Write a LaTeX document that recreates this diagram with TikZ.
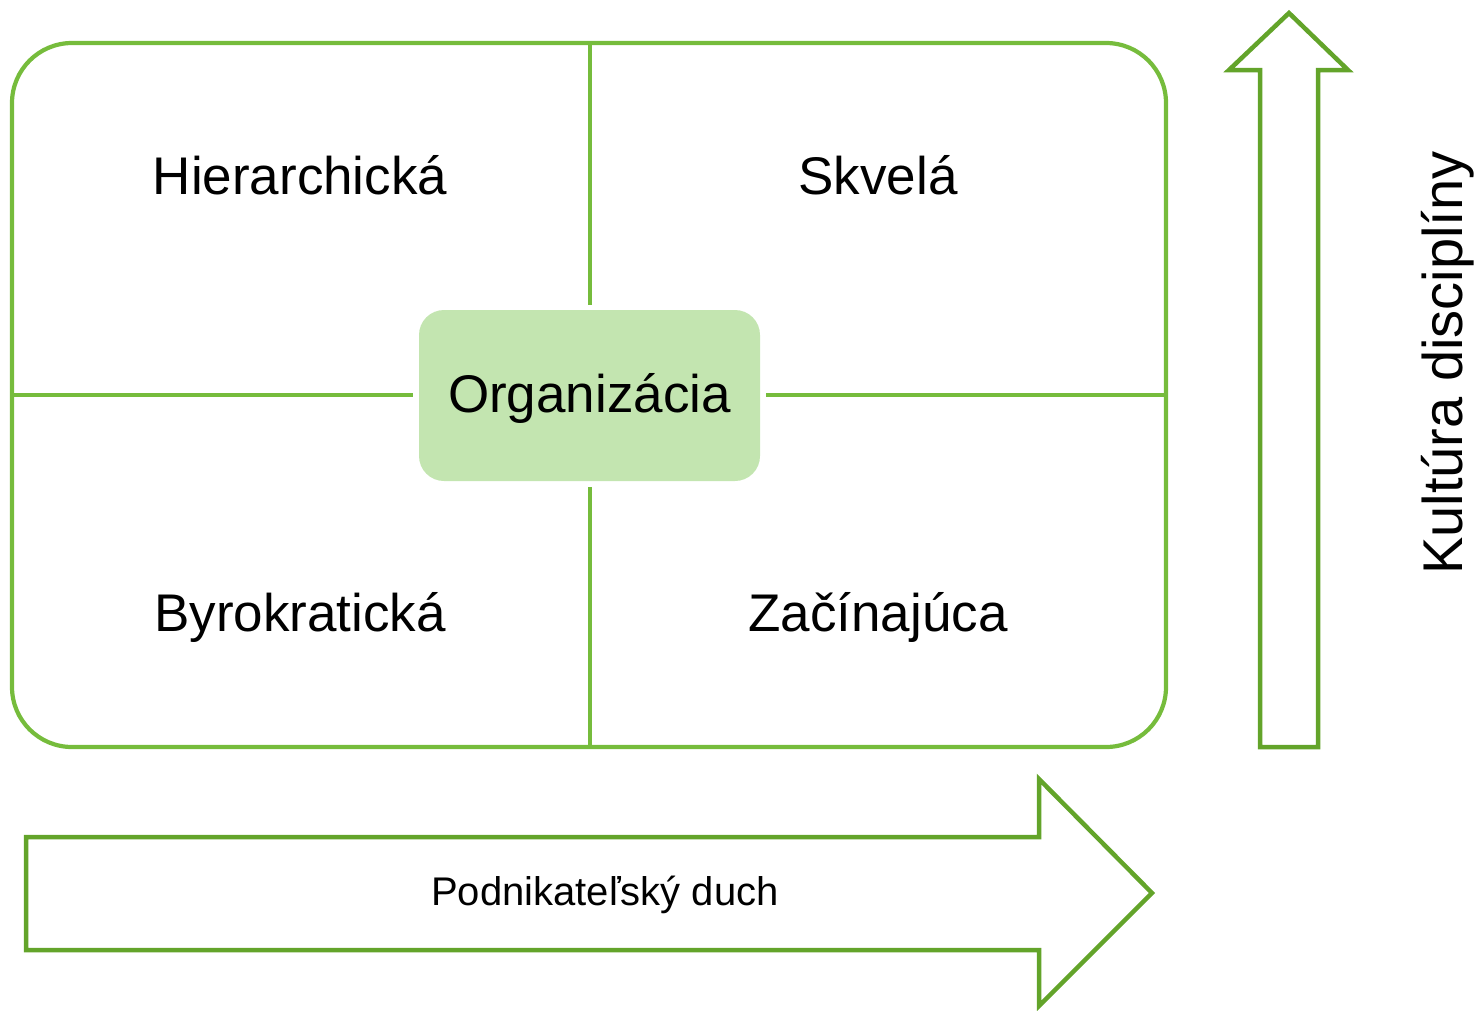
\documentclass[tikz,border=0pt]{standalone}
\usepackage{fontspec}
\setmainfont{Liberation Sans}
\definecolor{boxgreen}{HTML}{76BC3C}
\definecolor{arrgreen}{HTML}{63A42A}
\definecolor{centfill}{HTML}{C3E5B0}
\begin{document}
\begin{tikzpicture}[x=1pt,y=-1pt,
  frame/.style={draw=boxgreen,line width=4.2pt},
  bigarrow/.style={draw=arrgreen,line width=4.5pt,line join=miter,fill=white},
  lbl/.style={font=\fontsize{53}{64}\selectfont,text=black,inner sep=0pt},
  center/.style={fill=centfill,rounded corners=25pt,minimum width=341pt,minimum height=171pt,inner sep=0pt,font=\fontsize{53}{64}\selectfont}]
\useasboundingbox (0,0) rectangle (1476,1010);
% quadrant frame
\draw[frame,rounded corners=60pt] (12,43) rectangle (1166,747);
\node[center] (org) at (589.5,395.5) {};
\node[lbl] (orgtxt) at (589.5,398) {Organizácia};
\coordinate (top) at (590,43);
\coordinate (bot) at (590,747);
\coordinate (lft) at (12,395);
\coordinate (rgt) at (1166,395);
\draw[frame] (top) -- ([yshift=5pt]org.north -| top);
\draw[frame] (bot) -- ([yshift=-6pt]org.south -| bot);
\draw[frame] (lft) -- ([xshift=-6pt]org.west |- lft);
\draw[frame] (rgt) -- ([xshift=6pt]org.east |- rgt);
% quadrant labels
\node[lbl] (h) at (300,175) {Hierarchická};
\node[lbl] (s) at (878,175) {Skvelá};
\node[lbl] (b) at (300,617) {Byrokratická};
\node[lbl] (z) at (878,617) {Začínajúca};
% up arrow
\draw[bigarrow] (1260,747) -- (1260,70) -- (1229,70) -- (1289,13) -- (1348,70) -- (1318,70) -- (1318,747) -- cycle;
\node[lbl,rotate=90,font=\fontsize{56}{66}\selectfont] (k) at (1448,363) {Kultúra disciplíny};
% right arrow
\draw[bigarrow] (26,837) -- (1039,837) -- (1039,779) -- (1152,893) -- (1039,1006) -- (1039,950) -- (26,950) -- cycle;
\node[lbl,font=\fontsize{40}{48}\selectfont] (p) at (605,895) {Podnikateľský duch};
\end{tikzpicture}
\end{document}
